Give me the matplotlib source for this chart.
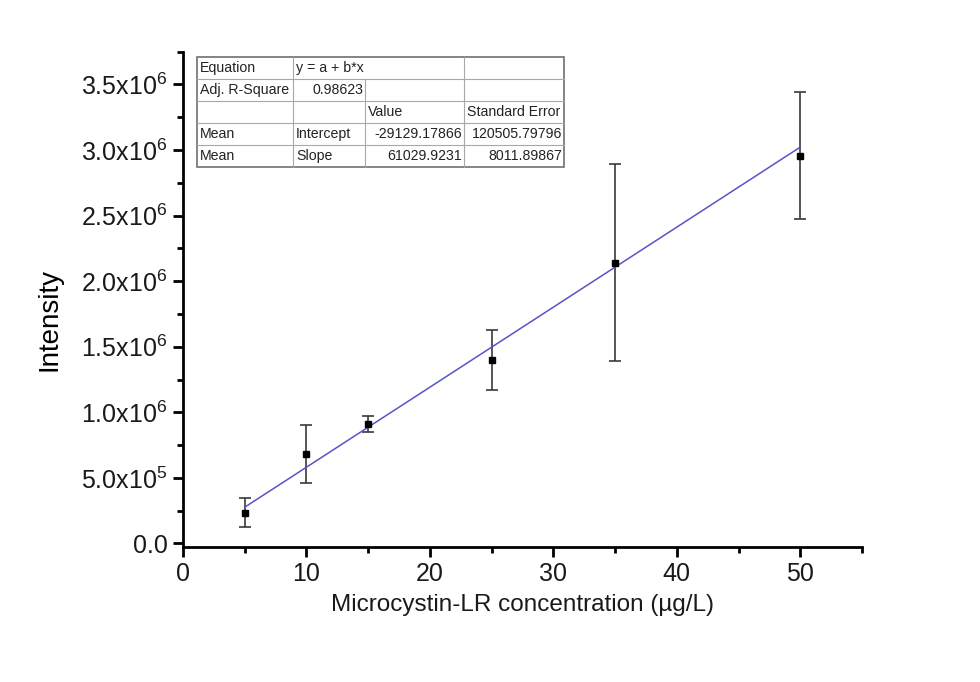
import matplotlib
matplotlib.use('Agg')
import matplotlib.pyplot as plt
from matplotlib.lines import Line2D
from matplotlib.ticker import MultipleLocator, FuncFormatter
import numpy as np

plt.rcParams['font.family'] = 'Liberation Sans'
plt.rcParams['mathtext.fontset'] = 'custom'
plt.rcParams['mathtext.rm'] = 'Liberation Sans'
plt.rcParams['mathtext.default'] = 'regular'

# data
conc = [5, 10, 15, 25, 35, 50]
intensity = [0.234e6, 0.68e6, 0.912e6, 1.40e6, 2.142e6, 2.958e6]
err = [0.11e6, 0.223e6, 0.06e6, 0.23e6, 0.75e6, 0.485e6]

intercept = -29129.17866
slope = 61029.9231

# fit table text
table_rows = [
    ['Equation', 'y = a + b*x', '', ''],
    ['Adj. R-Square', '0.98623', '', ''],
    ['', '', 'Value', 'Standard Error'],
    ['Mean', 'Intercept', '-29129.17866', '120505.79796'],
    ['Mean', 'Slope', '61029.9231', '8011.89867'],
]

fig = plt.figure(figsize=(9.8, 6.82), dpi=100)
ax = fig.add_axes([0.1867, 0.1984, 0.6929, 0.7258])

ax.errorbar(conc, intensity, yerr=err, fmt='none', ecolor='#3a3a3a',
            elinewidth=1.2, capsize=4, capthick=1.2, zorder=2)
ax.plot(conc, intensity, 's', color='black', markersize=5, zorder=4)
xf = np.array([conc[0], conc[-1]])
ax.plot(xf, intercept + slope * xf, color='#5555c8', linewidth=1.1, zorder=3)

ax.set_xlim(0, 55)
ax.set_ylim(-0.025e6, 3.75e6)
ax.xaxis.set_major_locator(MultipleLocator(10))
ax.xaxis.set_minor_locator(MultipleLocator(5))
ax.yaxis.set_major_locator(MultipleLocator(0.5e6))
ax.yaxis.set_minor_locator(MultipleLocator(0.25e6))


def yfmt(v, pos):
    if abs(v) < 1:
        return '0.0'
    e = int(np.floor(np.log10(abs(v))))
    return '%.1fx10$^{%d}$' % (v / 10 ** e, e)


ax.yaxis.set_major_formatter(FuncFormatter(yfmt))

for s in ['top', 'right']:
    ax.spines[s].set_visible(False)
for s in ['left', 'bottom']:
    ax.spines[s].set_linewidth(2)
ax.tick_params(which='major', direction='out', length=7, width=2, labelsize=18,
               pad=4, labelcolor='#1a1a1a')
ax.tick_params(which='minor', direction='out', length=4.5, width=2)

ax.set_xlabel('Microcystin-LR concentration (µg/L)', fontsize=17.5, color='#1a1a1a')
ax.set_ylabel('Intensity', fontsize=20)
ax.xaxis.set_label_coords(0.5, -0.095)
ax.yaxis.set_label_coords(-0.177, 0.458)

# fit result table (figure pixel coordinates)
W, H = 980, 682
col_x = [197, 293, 365, 464, 564]
row_y = [57, 79, 101, 123, 145, 167]


def fx(p):
    return p / W


def fy(p):
    return 1 - p / H


grid = '#a8a8a8'
for i in range(1, 5):
    y = row_y[i]
    fig.add_artist(Line2D([fx(col_x[0]), fx(col_x[-1])], [fy(y), fy(y)],
                          color=grid, lw=0.8, transform=fig.transFigure))
for j in range(1, 4):
    x = col_x[j]
    for i in range(5):
        if i == 0 and j == 2:
            continue
        fig.add_artist(Line2D([fx(x), fx(x)], [fy(row_y[i]), fy(row_y[i + 1])],
                              color=grid, lw=0.8, transform=fig.transFigure))
fig.add_artist(plt.Rectangle((fx(col_x[0]), fy(row_y[-1])),
                             fx(col_x[-1] - col_x[0]), (row_y[-1] - row_y[0]) / H,
                             fill=False, edgecolor='#707070', lw=1.2,
                             transform=fig.transFigure))

right_cells = {(1, 1), (3, 2), (3, 3), (4, 2), (4, 3)}
for i, row in enumerate(table_rows):
    yc = fy((row_y[i] + row_y[i + 1]) / 2)
    for j, txt in enumerate(row):
        if not txt:
            continue
        if (i, j) in right_cells:
            fig.text(fx(col_x[j + 1] - 2), yc, txt, ha='right', va='center',
                     fontsize=10.2, color='#222222')
        else:
            fig.text(fx(col_x[j] + 3), yc, txt, ha='left', va='center',
                     fontsize=10.2, color='#222222')

fig.savefig('out.png', dpi=100, facecolor='white')
